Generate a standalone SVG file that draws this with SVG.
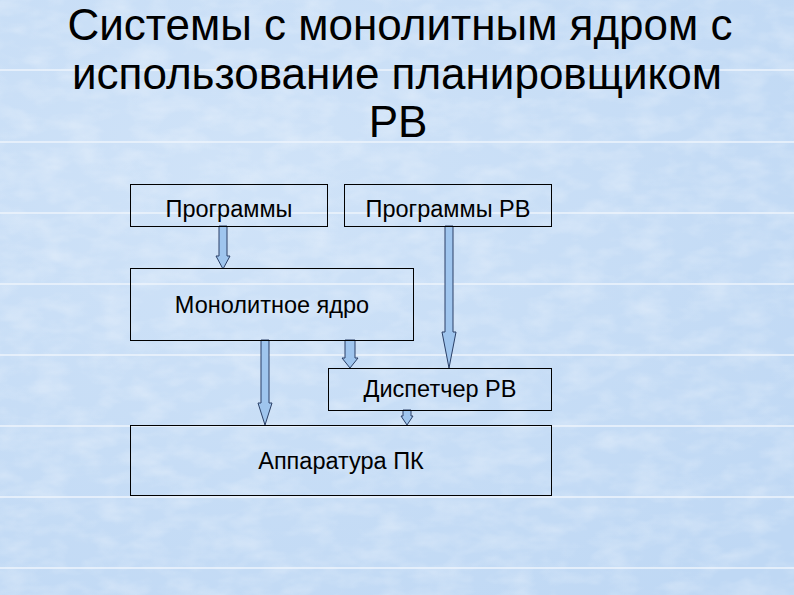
<svg xmlns="http://www.w3.org/2000/svg" width="794" height="595" viewBox="0 0 794 595">
<defs>
<style>
.rule{stroke:#eef5fd;stroke-width:1.5}
.box{fill:none;stroke:#000;stroke-width:1}
.lbl{font-family:"Liberation Sans",Arial,sans-serif;font-size:23.5px;fill:#000;text-anchor:middle}
.title{font-family:"Liberation Sans",Arial,sans-serif;font-size:44px;fill:#000;text-anchor:middle}
.arr{fill:#9fc5ee;stroke:#2a3f66;stroke-width:1}
</style>
<radialGradient id="g" cx="0.3" cy="0.3" r="0.9">
<stop offset="0" stop-color="#d0e3f8"/>
<stop offset="1" stop-color="#bfd8f4"/>
</radialGradient>
<filter id="clouds" x="0" y="0" width="100%" height="100%">
<feTurbulence type="fractalNoise" baseFrequency="0.03 0.06" numOctaves="3" seed="4" result="n"/>
<feColorMatrix in="n" type="matrix" values="0 0 0 0 1  0 0 0 0 1  0 0 0 0 1  0.9 0 0 0 -0.35"/>
</filter>
</defs>
<rect width="794" height="595" fill="url(#g)"/>
<rect width="794" height="595" filter="url(#clouds)" opacity="0.6"/>
<g id="rules">
<line class="rule" x1="0" y1="70" x2="794" y2="70"/>
<line class="rule" x1="0" y1="142" x2="794" y2="142"/>
<line class="rule" x1="0" y1="213" x2="794" y2="213"/>
<line class="rule" x1="0" y1="284" x2="794" y2="284"/>
<line class="rule" x1="0" y1="355" x2="794" y2="355"/>
<line class="rule" x1="0" y1="426" x2="794" y2="426"/>
<line class="rule" x1="0" y1="497" x2="794" y2="497"/>
<line class="rule" x1="0" y1="568" x2="794" y2="568"/>
</g>
<g id="title">
<text class="title" x="400" y="40">Системы с монолитным ядром с</text>
<text class="title" x="397" y="89">использование планировщиком</text>
<text class="title" x="398" y="137">РВ</text>
</g>
<g id="connectors">
<polygon class="arr" points="219,226 227,226 227,256 230,256 223,269 216,256 219,256"/>
<polygon class="arr" points="445,226 453,226 453,332 456,332 449,368 442,332 445,332"/>
<polygon class="arr" points="345,340 355,340 355,358 358,358 350,368 342,358 345,358"/>
<polygon class="arr" points="261,340 269,340 269,403 272,403 265,425 258,403 261,403"/>
<polygon class="arr" points="403,410 411,410 411,416 413,416 407,425 401,416 403,416"/>
</g>
<g id="n1"><rect class="box" x="130.5" y="184.5" width="197" height="42"/><text class="lbl" x="229" y="217">Программы</text></g>
<g id="n2"><rect class="box" x="344.5" y="184.5" width="207" height="42"/><text class="lbl" x="448" y="217">Программы РВ</text></g>
<g id="n3"><rect class="box" x="130.5" y="268.5" width="283" height="72"/><text class="lbl" x="272" y="313">Монолитное ядро</text></g>
<g id="n4"><rect class="box" x="328.5" y="368.5" width="223" height="42"/><text class="lbl" x="440" y="397">Диспетчер РВ</text></g>
<g id="n5"><rect class="box" x="130.5" y="425.5" width="421" height="70"/><text class="lbl" x="341" y="469">Аппаратура ПК</text></g>
</svg>
